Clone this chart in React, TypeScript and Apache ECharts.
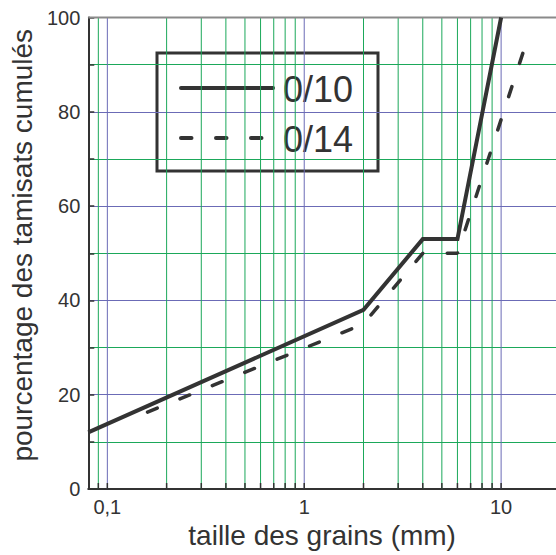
import React, { useEffect, useRef } from 'react';
import * as echarts from 'echarts';

// ---- data ----
const seriesNames = ['0/10', '0/14'];
const sizes010 = [0.08, 2, 4, 6, 10];
const pct010 = [12, 38, 53, 53, 100];
const sizes014 = [0.16, 2, 4, 6, 14];
const pct014 = [16.3, 35, 50, 50, 97];
const xMajorLines = [0.1, 1, 10];
const xMinorLines = [0.09, 0.2, 0.3, 0.4, 0.5, 0.6, 0.7, 0.8, 0.9, 2, 3, 4, 5, 6, 7, 8, 9];
const xMin = 0.08;
const xMax = 19;
const yMin = 0;
const yMax = 100;
const yStep = 10;

const BLUE = '#6b6bb6';
const GREEN = '#1ba85a';
const INK = '#333333';
const FONT = '"Liberation Sans", Arial, Helvetica, sans-serif';

export default function App() {
  const ref = useRef<HTMLDivElement>(null);
  useEffect(() => {
    const chart = echarts.init(ref.current!, null, { renderer: 'svg' });
    const vLines = [
      ...xMinorLines.map((v) => [v, 0]),
      ...xMajorLines.map((v) => [v, 1]),
    ];
    const ySplitColors: string[] = [];
    for (let v = yMin; v <= yMax; v += yStep) {
      ySplitColors.push(v === yMax ? 'rgba(0,0,0,0)' : v % 20 === 0 ? BLUE : GREEN);
    }
    chart.setOption({
      animation: false,
      textStyle: { fontFamily: FONT, color: INK },
      grid: { left: 88, top: 17.5, right: 0, bottom: 66 },
      xAxis: {
        type: 'log',
        logBase: 10,
        min: xMin,
        max: xMax,
        name: 'taille des grains (mm)',
        nameLocation: 'middle',
        nameGap: 32,
        nameTextStyle: { fontSize: 28, color: INK, fontFamily: FONT },
        axisLine: { lineStyle: { color: INK, width: 2 } },
        axisTick: { show: false },
        splitLine: { show: false },
        axisLabel: {
          showMinLabel: false,
          showMaxLabel: false,
          fontSize: 20,
          color: INK,
          margin: 8,
          fontFamily: FONT,
          formatter: (v: number) => {
            const l = Math.log10(v);
            const r = Math.round(l);
            if (Math.abs(l - r) > 1e-6) return '';
            return String(Math.pow(10, r).toFixed(Math.max(0, -r))).replace('.', ',');
          },
        },
      },
      yAxis: {
        type: 'value',
        min: yMin,
        max: yMax,
        interval: yStep,
        name: 'pourcentage des tamisats cumulés',
        nameLocation: 'middle',
        nameGap: 50,
        nameTextStyle: { fontSize: 28, color: INK, fontFamily: FONT, padding: [0, 0, 0, 16] },
        axisLine: { show: true, lineStyle: { color: INK, width: 2 } },
        axisTick: { show: true, inside: true, length: 6, lineStyle: { color: INK, width: 1.5 } },
        splitLine: { show: true, lineStyle: { color: ySplitColors, width: 1 } },
        axisLabel: {
          fontSize: 20,
          color: INK,
          margin: 8,
          fontFamily: FONT,
          formatter: (v: number) => (v % 20 === 0 ? String(v) : ''),
        },
      },
      graphic: [
        {
          type: 'group',
          z: 100,
          children: [
            {
              type: 'rect',
              shape: { x: 157, y: 53, width: 221, height: 118 },
              style: { fill: '#ffffff', stroke: INK, lineWidth: 3 },
            },
            {
              type: 'line',
              shape: { x1: 181, y1: 88, x2: 273, y2: 88 },
              style: { stroke: INK, lineWidth: 4, lineCap: 'round' },
            },
            {
              type: 'text',
              x: 283,
              y: 89,
              style: { text: seriesNames[0], fontSize: 36, fontFamily: FONT, fill: INK, verticalAlign: 'middle' },
            },
            {
              type: 'line',
              shape: { x1: 181, y1: 138, x2: 273, y2: 138 },
              style: { stroke: INK, lineWidth: 4, lineCap: 'round', lineDash: [10.5, 24.5] },
            },
            {
              type: 'text',
              x: 283,
              y: 139,
              style: { text: seriesNames[1], fontSize: 36, fontFamily: FONT, fill: INK, verticalAlign: 'middle' },
            },
          ],
        },
      ],
      series: [
        {
          type: 'custom',
          z: 1,
          silent: true,
          clip: false,
          data: vLines,
          renderItem: (params: any, api: any) => {
            const v = api.value(0);
            const major = api.value(1);
            const top = api.coord([v, yMax]);
            const bot = api.coord([v, yMin]);
            return {
              type: 'group',
              children: [
                {
                  type: 'line',
                  shape: { x1: top[0], y1: top[1], x2: bot[0], y2: bot[1] },
                  style: { stroke: major ? BLUE : GREEN, lineWidth: 1 },
                },
                {
                  type: 'line',
                  shape: { x1: bot[0], y1: bot[1], x2: bot[0], y2: bot[1] - 6 },
                  style: { stroke: INK, lineWidth: 1.5 },
                },
              ],
            };
          },
        },
        {
          type: 'custom',
          z: 2,
          silent: true,
          clip: false,
          data: [[xMin, yMax]],
          renderItem: (params: any, api: any) => {
            const a = api.coord([xMin, yMax]);
            const b = api.coord([xMax, yMax]);
            return {
              type: 'line',
              shape: { x1: a[0], y1: a[1], x2: b[0], y2: b[1] },
              style: { stroke: '#8a8a8a', lineWidth: 2 },
            };
          },
        },
        {
          name: seriesNames[0],
          type: 'line',
          z: 5,
          symbol: 'none',
          data: sizes010.map((x, i) => [x, pct010[i]]),
          lineStyle: { color: INK, width: 4, join: 'miter' },
        },
        {
          name: seriesNames[1],
          type: 'line',
          z: 5,
          symbol: 'none',
          data: sizes014.map((x, i) => [x, pct014[i]]),
          lineStyle: { color: INK, width: 3.5, type: [10.5, 24.5], cap: 'round' },
        },
      ],
    });
    return () => chart.dispose();
  }, []);
  return (
    <div
      ref={ref}
      style={{ position: 'fixed', left: 0, top: 0, width: 556, height: 555, background: '#fff' }}
    />
  );
}
